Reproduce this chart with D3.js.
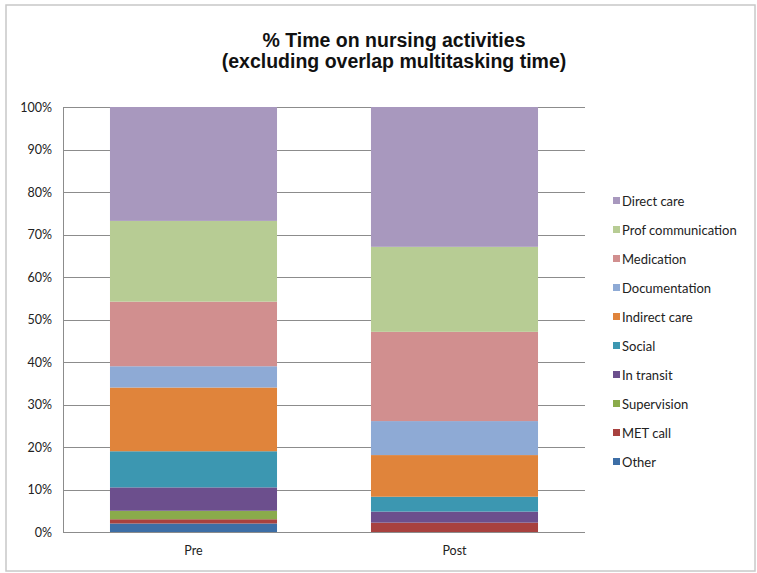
<!DOCTYPE html>
<html>
<head>
<meta charset="utf-8">
<script src="https://cdn.jsdelivr.net/npm/d3@7"></script>
<style>
  html, body { margin: 0; padding: 0; background: #fff; }
  svg { display: block; }
</style>
</head>
<body>
<svg id="chart" width="757" height="573"></svg>
<script>
// ---- Data ----
const categories = ["Pre", "Post"];
// Series in stacking order (bottom to top)
const seriesNames = ["Other", "MET call", "Supervision", "In transit", "Social",
  "Indirect care", "Documentation", "Medication", "Prof communication", "Direct care"];
const preValues  = [2.0, 1.0, 2.0, 5.5, 8.5, 15.0, 5.0, 15.2, 19.0, 26.8];
const postValues = [0.0, 2.2, 0.0, 2.6, 3.5, 9.8, 8.0, 21.0, 20.0, 32.9];
const seriesColors = ["#3d6ea6", "#a8413f", "#8aab4b", "#6c4f8d", "#3c97b1",
  "#e0843b", "#8eaad5", "#d18f8f", "#b7cc94", "#a898be"];
const yTicks = [0, 10, 20, 30, 40, 50, 60, 70, 80, 90, 100];
const titleLines = ["% Time on nursing activities", "(excluding overlap multitasking time)"];

// ---- Build table ----
const valuesByCat = { "Pre": preValues, "Post": postValues };
const table = categories.map(c => {
  const row = { category: c };
  seriesNames.forEach((s, i) => row[s] = valuesByCat[c][i]);
  return row;
});
const stacked = d3.stack().keys(seriesNames)(table);

// ---- Layout ----
const svg = d3.select("#chart");
const plot = { left: 63, right: 585, top: 107, bottom: 532 };

svg.append("rect")
  .attr("x", 6).attr("y", 5).attr("width", 749).attr("height", 566)
  .attr("fill", "#fff").attr("stroke", "#c8c8c8").attr("stroke-width", 1.5);

const x = d3.scaleBand().domain(categories)
  .range([plot.left, plot.right]).paddingInner(0.36).paddingOuter(0.18);
const y = d3.scaleLinear().domain([0, 100]).range([plot.bottom, plot.top]);

// gridlines
svg.append("g").selectAll("line").data(yTicks).join("line")
  .attr("x1", plot.left).attr("x2", plot.right)
  .attr("y1", d => Math.round(y(d)) + 0.5).attr("y2", d => Math.round(y(d)) + 0.5)
  .attr("stroke", "#8c8c8c").attr("stroke-width", 1);

// y axis
const yAxis = d3.axisLeft(y).tickValues(yTicks).tickFormat(d => d + "%").tickSize(0).tickPadding(11);
const gy = svg.append("g").attr("transform", `translate(${plot.left},0)`).call(yAxis);
gy.select(".domain").attr("stroke", "#8c8c8c");
gy.selectAll("text").attr("font-family", "Lato, 'Open Sans', sans-serif")
  .attr("font-size", 12.5).attr("fill", "#222");

// bars
svg.append("g").selectAll("g").data(stacked).join("g")
  .attr("fill", (d, i) => seriesColors[i])
  .selectAll("rect").data(d => d).join("rect")
  .attr("x", d => x(d.data.category))
  .attr("width", x.bandwidth())
  .attr("y", d => y(d[1]))
  .attr("height", d => y(d[0]) - y(d[1]));

// x axis
const xAxis = d3.axisBottom(x).tickSize(0).tickPadding(14);
const gx = svg.append("g").attr("transform", `translate(0,${plot.bottom})`).call(xAxis);
gx.select(".domain").remove();
gx.selectAll("text").attr("font-family", "Lato, 'Open Sans', sans-serif")
  .attr("font-size", 12.5).attr("fill", "#222");

// title
svg.append("g").selectAll("text").data(titleLines).join("text")
  .attr("x", 394).attr("y", (d, i) => 47 + i * 21)
  .attr("text-anchor", "middle")
  .attr("font-family", "'Liberation Sans', Arial, sans-serif")
  .attr("font-weight", "bold").attr("font-size", 19.5).attr("fill", "#111")
  .text(d => d);

// legend (top to bottom = reversed stack order)
const legendItems = seriesNames.map((s, i) => ({ name: s, color: seriesColors[i] })).reverse();
const lg = svg.append("g").selectAll("g").data(legendItems).join("g")
  .attr("transform", (d, i) => `translate(613,${201 + i * 29})`);
lg.append("rect").attr("x", 0).attr("y", -4).attr("width", 7).attr("height", 7)
  .attr("fill", d => d.color);
lg.append("text").attr("x", 9).attr("y", 0).attr("dy", "0.35em")
  .attr("font-family", "Lato, 'Open Sans', sans-serif")
  .attr("font-size", 13).attr("fill", "#222")
  .text(d => d.name);
</script>
</body>
</html>
